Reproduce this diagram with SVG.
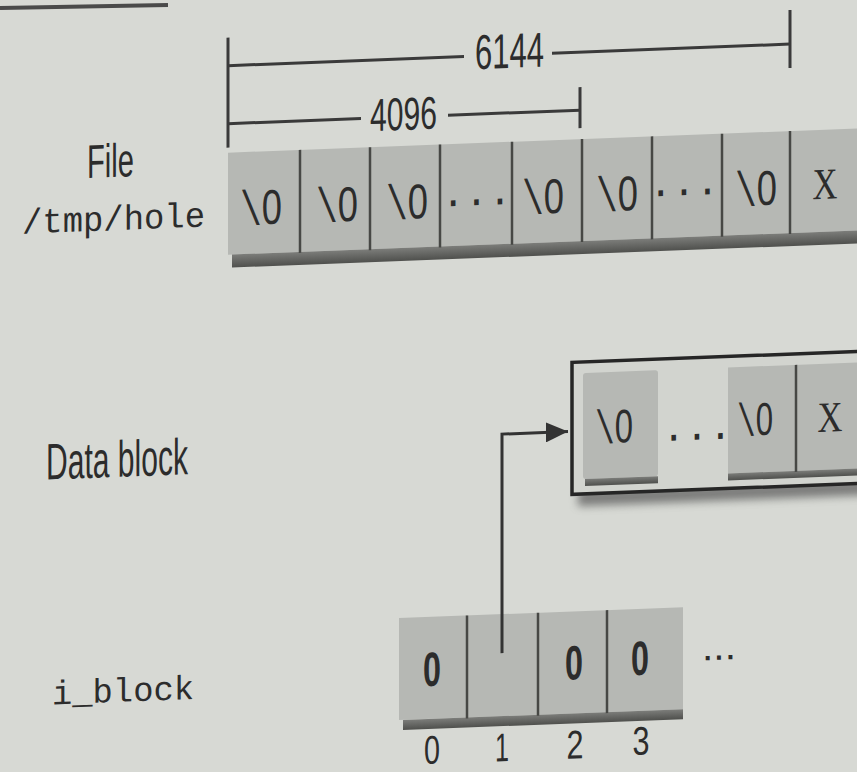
<svg xmlns="http://www.w3.org/2000/svg" width="857" height="772" viewBox="0 0 857 772">
<defs>
<style>
.bg{fill:#d7d9d4}
.cell{fill:#b6b8b4}
.div{stroke:#474845;stroke-width:2.5}
.band{fill:url(#bandg)}
.dim{stroke:#3a3a3a;stroke-width:3;fill:none}
.sans{font-family:"Liberation Sans",Arial,sans-serif;fill:#2c2c2c}
.mono{font-family:"Liberation Mono","Courier New",monospace;fill:#2c2c2c}
.nul{font-family:"Liberation Mono","Courier New",monospace;fill:#2c2c2c}
.nul .z{font-family:"Liberation Sans",Arial,sans-serif}
.ser{font-family:"Liberation Serif","Times New Roman",serif;fill:#2c2c2c}
.conn{stroke:#333;stroke-width:3;fill:none}
</style>
<linearGradient id="bandg" x1="0" y1="0" x2="0" y2="1">
<stop offset="0" stop-color="#7c7d7a"/>
<stop offset="1" stop-color="#4f504d"/>
</linearGradient>
<marker id="ah" markerUnits="userSpaceOnUse" markerWidth="22" markerHeight="20" refX="22" refY="10" orient="auto">
<path d="M0,0 L22,10 L0,20 z" fill="#333"/>
</marker>
<filter id="blur" x="-10%" y="-100%" width="120%" height="300%"><feGaussianBlur stdDeviation="4"/></filter>
</defs>
<rect class="bg" x="0" y="0" width="857" height="772"/>
<line x1="0" y1="8" x2="168" y2="5" stroke="#4a4a4a" stroke-width="4"/>
<g transform="matrix(1 -0.0384 0 1 0 16.4)">
<g id="labels">
<text class="sans" x="110.5" y="165" font-size="47" text-anchor="middle" textLength="47" lengthAdjust="spacingAndGlyphs">File</text>
<text class="mono" x="22" y="218" font-size="35" textLength="183" lengthAdjust="spacingAndGlyphs">/tmp/hole</text>
<text class="sans" x="46" y="465" font-size="51" textLength="142" lengthAdjust="spacingAndGlyphs">Data block</text>
<text class="mono" x="52" y="690" font-size="34" textLength="142" lengthAdjust="spacingAndGlyphs">i_block</text>
</g>
<g id="dimensions">
<line class="dim" x1="228" y1="30" x2="228" y2="140"/>
<line class="dim" x1="228" y1="58" x2="464" y2="58"/>
<line class="dim" x1="552" y1="58" x2="790" y2="58"/>
<line class="dim" x1="790" y1="24" x2="790" y2="82"/>
<text class="sans" x="509.5" y="71" font-size="49" text-anchor="middle" textLength="69" lengthAdjust="spacingAndGlyphs">6144</text>
<line class="dim" x1="228" y1="116" x2="361" y2="116"/>
<line class="dim" x1="448" y1="116" x2="580" y2="116"/>
<line class="dim" x1="580" y1="93" x2="580" y2="134"/>
<text class="sans" x="403.5" y="129" font-size="46" text-anchor="middle" textLength="67" lengthAdjust="spacingAndGlyphs">4096</text>
</g>
<g id="file-row">
<rect class="cell" x="228" y="145" width="660" height="102"/>
<rect class="band" x="232" y="247" width="660" height="13"/>
<line class="div" x1="300" y1="145" x2="300" y2="248"/>
<line class="div" x1="370" y1="145" x2="370" y2="248"/>
<line class="div" x1="440" y1="145" x2="440" y2="248"/>
<line class="div" x1="512" y1="145" x2="512" y2="248"/>
<line class="div" x1="582" y1="145" x2="582" y2="248"/>
<line class="div" x1="652" y1="145" x2="652" y2="248"/>
<line class="div" x1="722" y1="145" x2="722" y2="248"/>
<line class="div" x1="790" y1="145" x2="790" y2="248"/>
<text class="nul" x="261" y="218" font-size="49" text-anchor="middle" textLength="42" lengthAdjust="spacingAndGlyphs">\<tspan class="z">0</tspan></text>
<text class="nul" x="337" y="218" font-size="49" text-anchor="middle" textLength="42" lengthAdjust="spacingAndGlyphs">\<tspan class="z">0</tspan></text>
<text class="nul" x="407" y="218" font-size="49" text-anchor="middle" textLength="42" lengthAdjust="spacingAndGlyphs">\<tspan class="z">0</tspan></text>
<text class="mono" x="476.5" y="207" font-size="39" text-anchor="middle">...</text>
<text class="nul" x="543" y="218" font-size="49" text-anchor="middle" textLength="42" lengthAdjust="spacingAndGlyphs">\<tspan class="z">0</tspan></text>
<text class="nul" x="617" y="218" font-size="49" text-anchor="middle" textLength="42" lengthAdjust="spacingAndGlyphs">\<tspan class="z">0</tspan></text>
<text class="mono" x="684" y="205" font-size="39" text-anchor="middle">...</text>
<text class="nul" x="756" y="218" font-size="49" text-anchor="middle" textLength="42" lengthAdjust="spacingAndGlyphs">\<tspan class="z">0</tspan></text>
<text class="ser" x="825" y="214" font-size="44" text-anchor="middle" textLength="25" lengthAdjust="spacingAndGlyphs">X</text>
</g>
<g id="data-block">
<rect x="578" y="496" width="300" height="16" fill="#555" opacity="0.7" filter="url(#blur)"/>
<rect x="572" y="368" width="300" height="132" fill="#d2d4cf" stroke="#262626" stroke-width="3.5"/>
<rect class="cell" x="583" y="379" width="75" height="106" rx="3"/>
<rect class="band" x="585" y="485" width="73" height="7"/>
<rect class="cell" x="728" y="379" width="150" height="106"/>
<rect class="band" x="728" y="485" width="150" height="7"/>
<line class="div" x1="796" y1="379" x2="796" y2="486"/>
<text class="nul" x="614" y="450" font-size="47" text-anchor="middle" textLength="38" lengthAdjust="spacingAndGlyphs">\<tspan class="z">0</tspan></text>
<text class="mono" x="697" y="450" font-size="39" text-anchor="middle">...</text>
<text class="nul" x="755" y="448" font-size="46" text-anchor="middle" textLength="36" lengthAdjust="spacingAndGlyphs">\<tspan class="z">0</tspan></text>
<text class="ser" x="830" y="447" font-size="43" text-anchor="middle" textLength="25" lengthAdjust="spacingAndGlyphs">X</text>
</g>
<g id="i_block">
<rect class="cell" x="399" y="617" width="284" height="102"/>
<rect class="band" x="403" y="719" width="280" height="10"/>
<line class="div" x1="467" y1="617" x2="467" y2="720"/>
<line class="div" x1="538" y1="617" x2="538" y2="720"/>
<line class="div" x1="607" y1="617" x2="607" y2="720"/>
<text class="sans" x="432" y="686" font-size="48" font-weight="bold" text-anchor="middle" textLength="18" lengthAdjust="spacingAndGlyphs">0</text>
<text class="sans" x="574" y="685" font-size="48" font-weight="bold" text-anchor="middle" textLength="18" lengthAdjust="spacingAndGlyphs">0</text>
<text class="sans" x="640" y="683" font-size="48" font-weight="bold" text-anchor="middle" textLength="18" lengthAdjust="spacingAndGlyphs">0</text>
<text class="sans" x="702" y="671" font-size="40" textLength="34" lengthAdjust="spacingAndGlyphs">...</text>
<text class="sans" x="432" y="764" font-size="40" text-anchor="middle" textLength="16" lengthAdjust="spacingAndGlyphs">0</text>
<text class="sans" x="502" y="764" font-size="40" text-anchor="middle" textLength="14" lengthAdjust="spacingAndGlyphs">1</text>
<text class="sans" x="575" y="764" font-size="40" text-anchor="middle" textLength="17" lengthAdjust="spacingAndGlyphs">2</text>
<text class="sans" x="641" y="763" font-size="40" text-anchor="middle" textLength="17" lengthAdjust="spacingAndGlyphs">3</text>
</g>
<g id="connectors">
<path class="conn" d="M502,656 L502,437 L568,437" marker-end="url(#ah)"/>
</g>
</g>
</svg>
